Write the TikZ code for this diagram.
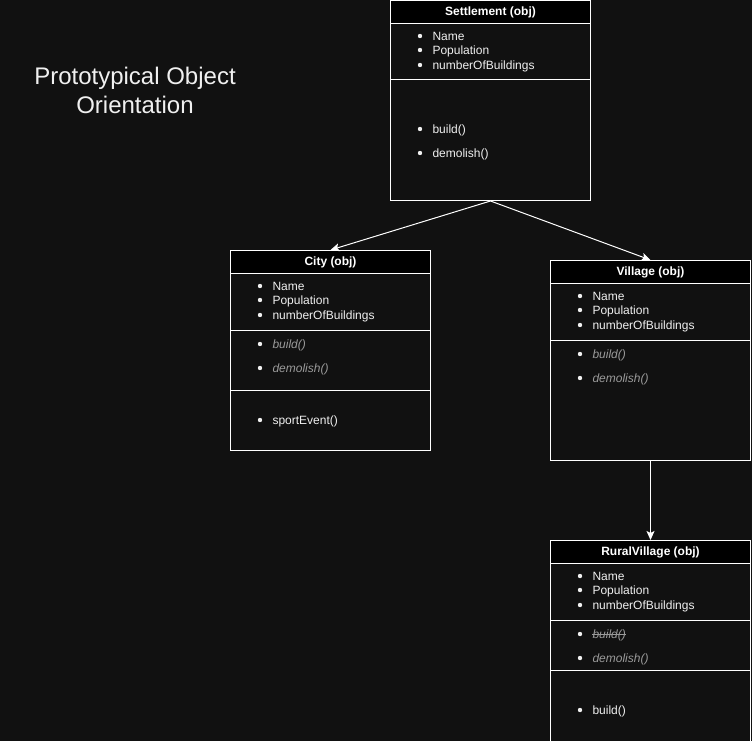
\documentclass[tikz,border=0pt]{standalone}
\usepackage{fontspec}
\setmainfont{Liberation Sans}
\usetikzlibrary{arrows.meta}
\definecolor{bg}{HTML}{111111}
\definecolor{fg}{HTML}{F0F0F0}
\definecolor{dim}{HTML}{9A9A9A}
\newcommand\mybul[2]{\fill[fg] (#1,#2) circle (2.2pt);}
\begin{document}
\begin{tikzpicture}[x=1pt,y=-1pt, line width=1pt,
 box/.style={draw=white, fill=bg, anchor=north west, minimum width=200pt, inner sep=0pt, line width=1pt},
 hdr/.style={draw=white, fill=black, anchor=north west, minimum width=200pt, minimum height=23pt, inner sep=0pt, text=white, font=\fontsize{12}{14}\selectfont\bfseries},
 itm/.style={anchor=base west, inner sep=0pt, text=fg, font=\fontsize{12}{14}\selectfont},
 itmi/.style={itm, text=dim, font=\fontsize{12}{14}\selectfont\itshape},
 sepline/.style={draw=white, line width=1pt},
 conn/.style={draw=white, line width=1pt, -{Stealth[length=9pt,width=8pt,inset=2pt]}},
]
\fill[bg] (0,0) rectangle (752,741);
\useasboundingbox (0,0) rectangle (752,741);

% title
\node[align=center, text=fg, font=\fontsize{24}{29}\selectfont] (title) at (135,90) {Prototypical Object\\Orientation};

% Settlement
\node[box, minimum height=200pt] (set) at (390,0) {};
\node[hdr] (seth) at (390,0) {Settlement (obj)};
\draw[sepline] (390,80) -- (590,80);
\mybul{420}{36}\node[itm] (s1) at (432,40.3) {Name};
\mybul{420}{50}\node[itm] (s2) at (432,54.3) {Population};
\mybul{420}{65}\node[itm] (s3) at (432,69.3) {numberOfBuildings};
\mybul{420}{129}\node[itm] (s4) at (432,133.3) {build()};
\mybul{420}{153}\node[itm] (s5) at (432,157.3) {demolish()};

% City
\node[box, minimum height=200pt] (city) at (230,250) {};
\node[hdr] (cityh) at (230,250) {City (obj)};
\draw[sepline] (230,330) -- (430,330);
\draw[sepline] (230,390) -- (430,390);
\mybul{260}{286}\node[itm] (c1) at (272,290.3) {Name};
\mybul{260}{300}\node[itm] (c2) at (272,304.3) {Population};
\mybul{260}{315}\node[itm] (c3) at (272,319.3) {numberOfBuildings};
\mybul{260}{344}\node[itmi] (c4) at (272,348.3) {build()};
\mybul{260}{368}\node[itmi] (c5) at (272,372.3) {demolish()};
\mybul{260}{420}\node[itm] (c6) at (272,424.3) {sportEvent()};

% Village
\node[box, minimum height=200pt] (vil) at (550,260) {};
\node[hdr] (vilh) at (550,260) {Village (obj)};
\draw[sepline] (550,340) -- (750,340);
\mybul{580}{296}\node[itm] (v1) at (592,300.3) {Name};
\mybul{580}{310}\node[itm] (v2) at (592,314.3) {Population};
\mybul{580}{325}\node[itm] (v3) at (592,329.3) {numberOfBuildings};
\mybul{580}{354}\node[itmi] (v4) at (592,358.3) {build()};
\mybul{580}{378}\node[itmi] (v5) at (592,382.3) {demolish()};

% RuralVillage
\node[box, minimum height=210pt] (rur) at (550,540) {};
\node[hdr] (rurh) at (550,540) {RuralVillage (obj)};
\draw[sepline] (550,620) -- (750,620);
\draw[sepline] (550,670) -- (750,670);
\mybul{580}{576}\node[itm] (r1) at (592,580.3) {Name};
\mybul{580}{590}\node[itm] (r2) at (592,594.3) {Population};
\mybul{580}{605}\node[itm] (r3) at (592,609.3) {numberOfBuildings};
\mybul{580}{634}\node[itmi] (r4) at (592,638.3) {build()};
\draw[dim, line width=0.8pt] ([yshift=3.6pt]r4.base west) -- ([yshift=3.6pt]r4.base east);
\mybul{580}{658}\node[itmi] (r5) at (592,662.3) {demolish()};
\mybul{580}{710}\node[itm] (r6) at (592,714.3) {build()};

% connectors
\draw[conn] (set.south) -- (city.north);
\draw[conn] (set.south) -- (vil.north);
\draw[conn] (vil.south) -- (rur.north);
\end{tikzpicture}
\end{document}
